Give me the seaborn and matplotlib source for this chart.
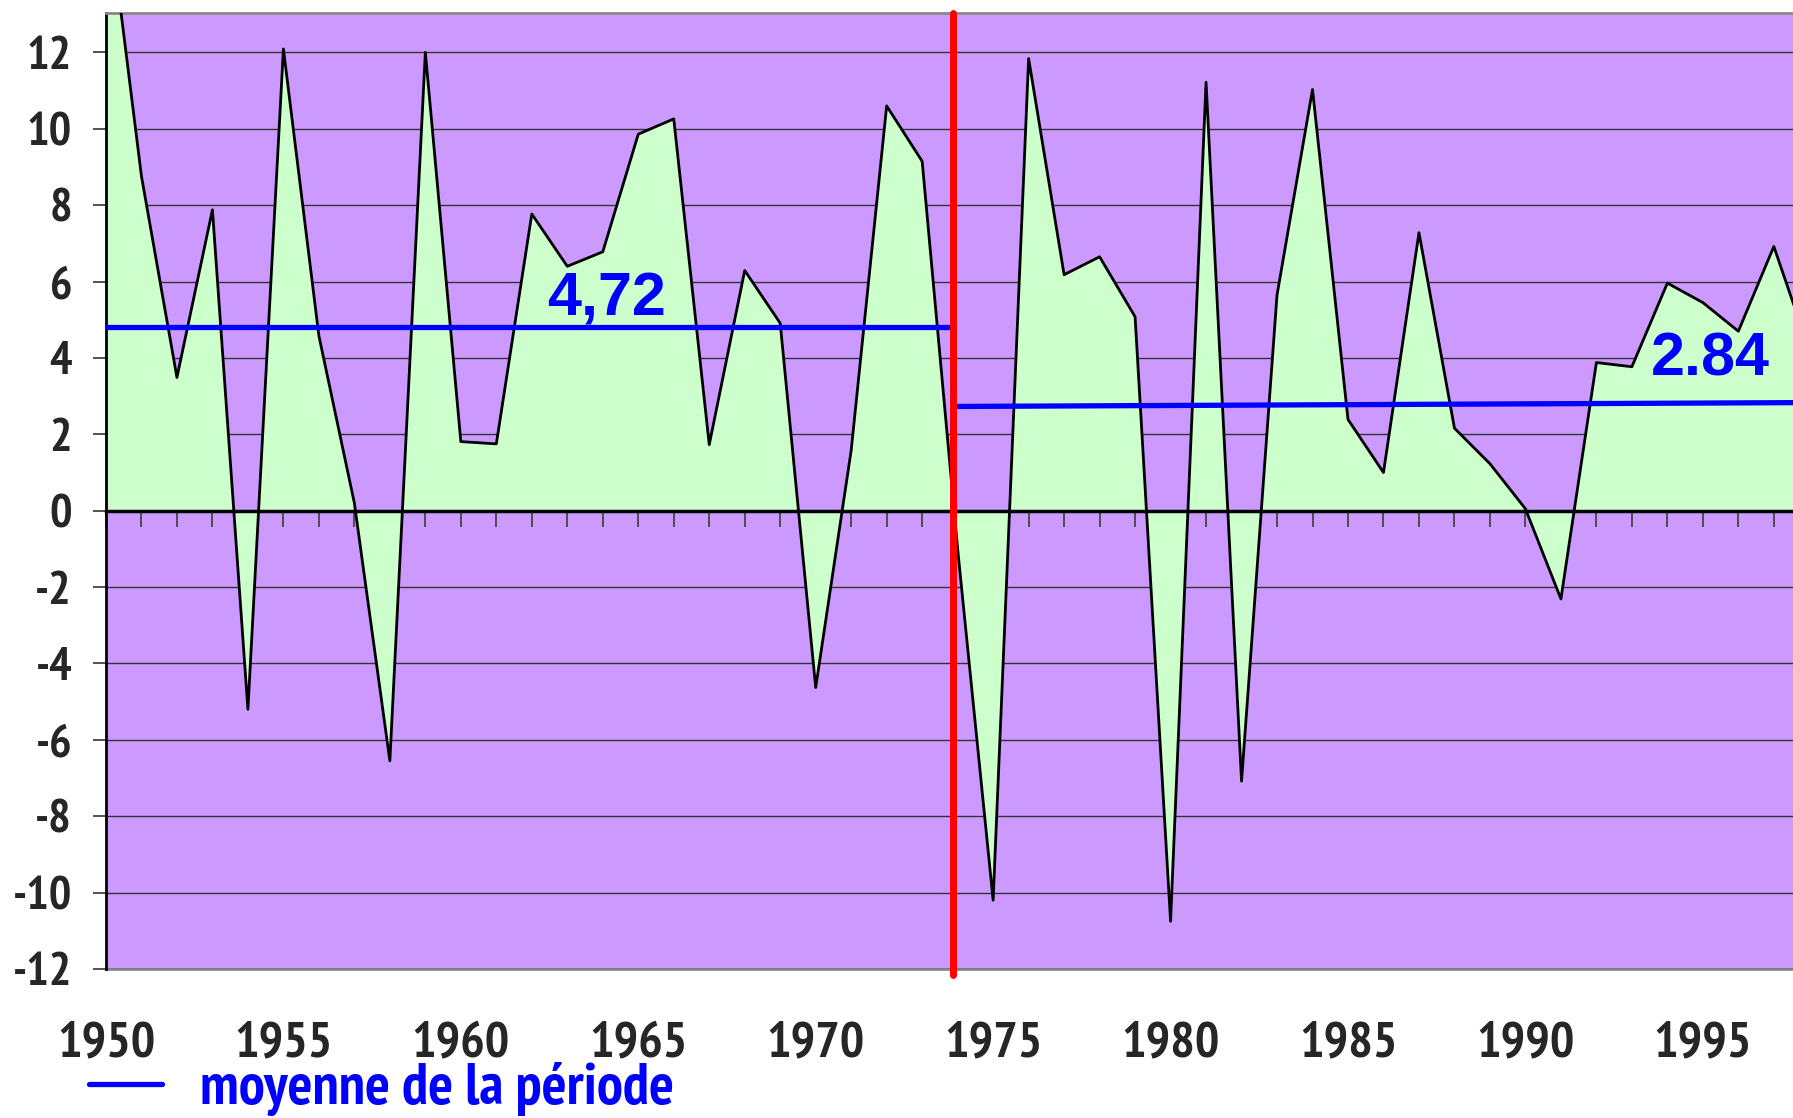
import matplotlib
matplotlib.use("Agg")
import matplotlib.pyplot as plt
import seaborn as sns
from matplotlib.lines import Line2D
from matplotlib import font_manager

# yearly values
years = list(range(1950, 1999))
values = [16.2, 8.76, 3.49, 7.88, -5.2, 12.09, 4.58, 0.2, -6.55, 12.0,
          1.81, 1.75, 7.77, 6.40, 6.78, 9.86, 10.26, 1.73, 6.29, 4.91,
          -4.63, 1.58, 10.6, 9.15, -1.0, -10.2, 11.84, 6.18, 6.65, 5.08,
          -10.75, 11.22, -7.08, 5.65, 11.03, 2.39, 1.0, 7.28, 2.16, 1.23,
          0.05, -2.31, 3.88, 3.77, 5.96, 5.45, 4.70, 6.92, 4.2]

# break year and the two period means (as drawn)
break_year = 1973.88
mean1_x = [1950, 1973.88]
mean1_y = [4.82, 4.82]
mean2_x = [1973.92, 1997.54]
mean2_y = [2.73, 2.83]
mean1_label = "4,72"
mean2_label = "2.84"
legend_label = "moyenne de la période"

year_labels = list(range(1950, 1996, 5))
y_ticks = list(range(-12, 13, 2))


def FindNarrowBold():
    # look for an Arial Narrow like bold face; None if nothing condensed is installed
    best = None
    best_rank = 99
    for f in font_manager.fontManager.ttflist:
        w = f.weight
        bold = w in ("bold", "heavy", "black", "extra bold", "demibold") or (isinstance(w, int) and w >= 600)
        if not bold or "italic" in f.style or "oblique" in f.style:
            continue
        rank = 99
        if f.name == "Liberation Sans Narrow":
            rank = 0
        elif "Narrow" in f.name:
            rank = 1
        elif f.name == "DejaVu Sans" and f.stretch == "condensed":
            rank = 2
        elif "Condensed" in f.name or f.stretch in ("condensed", "semi-condensed"):
            rank = 3
        if rank < best_rank:
            best_rank = rank
            best = f.fname
    return best


def Props(size):
    path = FindNarrowBold()
    if path:
        return font_manager.FontProperties(fname=path, size=size)
    # no narrow face: squeeze plain bold down to similar widths
    return font_manager.FontProperties(family=["Liberation Sans", "DejaVu Sans"],
                                       weight="bold", size=size * 0.82)


def MakeChart():
    sns.set_theme(style="white")
    plt.rcParams['font.family'] = ['Liberation Sans', 'DejaVu Sans']
    plt.rcParams['font.weight'] = 'bold'
    plt.rcParams['axes.unicode_minus'] = False

    fig = plt.figure(figsize=(17.93, 11.18), dpi=100)
    ax = fig.add_axes([0.0591, 0.1333, 0.9409, 0.8553])
    ax.set_facecolor("#CC99FF")

    ax.fill_between(years, values, 0, color="#CCFFCC", zorder=2, linewidth=0)
    sns.lineplot(x=years, y=values, color="black", linewidth=2.0, ax=ax, zorder=3)

    ax.plot(mean1_x, mean1_y, color="blue", linewidth=3.8, zorder=4)
    ax.plot(mean2_x, mean2_y, color="blue", linewidth=3.8, zorder=4)
    ax.axvline(break_year, ymin=-0.006, ymax=1.0, color="red", linewidth=5,
               zorder=6, clip_on=False)

    ax.text(1962.42, 5.11, mean1_label, color="blue", fontsize=44,
            ha="left", va="baseline", zorder=5)
    ax.text(1993.54, 3.54, mean2_label, color="blue", fontsize=44,
            ha="left", va="baseline", zorder=5)

    ax.set_xlim(1950, 1997.54)
    ax.set_ylim(-12, 13.04)

    ax.set_yticks(y_ticks)
    ax.set_yticklabels([str(t) for t in y_ticks], fontproperties=Props(34))
    ax.yaxis.grid(True, color="#333333", linewidth=1.0)
    ax.set_axisbelow(True)
    ax.tick_params(axis="y", direction="out", length=9.4, width=1.3,
                   color="#444444", pad=15, left=True)

    # year ticks sit on the zero line
    ax.spines['bottom'].set_position(('data', 0))
    ax.spines['bottom'].set_linewidth(2.5)
    ax.spines['bottom'].set_color("black")
    ax.spines['bottom'].set_zorder(5)
    ax.set_xticks(years[:-1])
    ax.tick_params(axis="x", direction="out", length=11.5, width=1.3,
                   color="#444444", labelbottom=False, bottom=True)

    ax.spines['left'].set_color("black")
    ax.spines['left'].set_linewidth(2)
    ax.spines['top'].set_color("#888888")
    ax.spines['top'].set_linewidth(2)
    ax.spines['right'].set_visible(False)

    sec = ax.secondary_xaxis('bottom')
    sec.set_xticks(year_labels, labels=[str(y) for y in year_labels])
    for lbl in sec.get_xticklabels():
        lbl.set_fontproperties(Props(37))
    sec.tick_params(length=0, pad=38)
    sec.spines['bottom'].set_color("#888888")
    sec.spines['bottom'].set_linewidth(2)

    handle = Line2D([0], [0], color="blue", linewidth=3.8)
    fig.legend([handle], [legend_label], loc="center left",
               bbox_to_anchor=(0.0496, 0.0255), frameon=False, prop=Props(42),
               labelcolor="blue", handlelength=1.25, handletextpad=0.66,
               borderpad=0, borderaxespad=0)

    fig.savefig("out.png", dpi=100)


MakeChart()
